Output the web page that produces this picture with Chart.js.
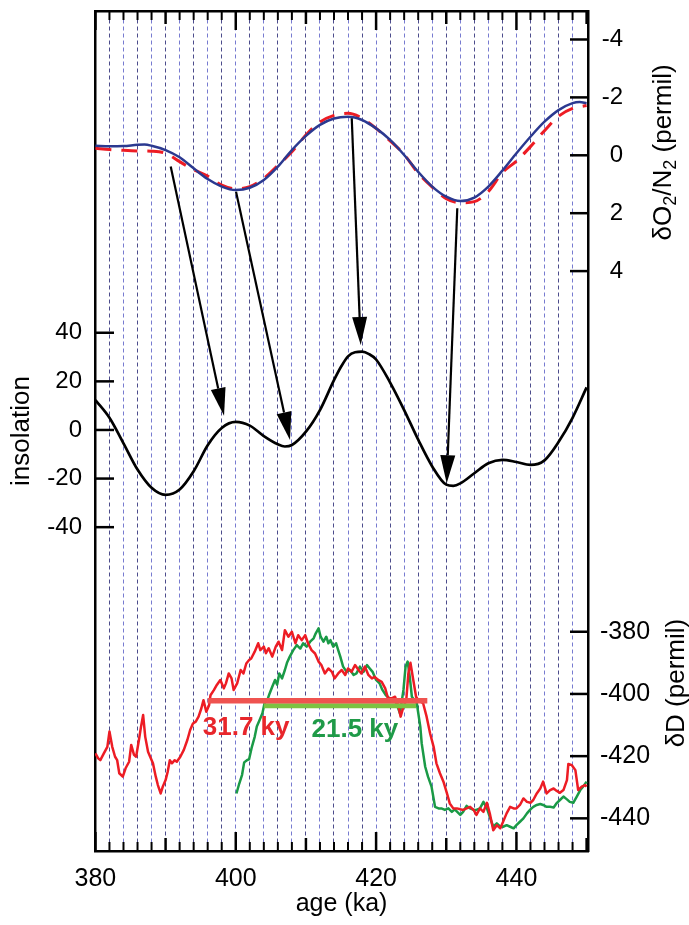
<!DOCTYPE html>
<html>
<head>
<meta charset="utf-8">
<script src="https://cdn.jsdelivr.net/npm/chart.js@4.4.1/dist/chart.umd.min.js"></script>
<style>
  html, body { margin: 0; padding: 0; background: #fff; }
  canvas { display: block; }
</style>
</head>
<body>
<canvas id="chart" width="689" height="925"></canvas>
<script>
// ---- axis ticks ----
const ageLabels = [380, 400, 420, 440];
const o2Ticks = [-4, -2, 0, 2, 4];
const insTicks = [-40, -20, 0, 20, 40];
const dTicks = [-440, -420, -400, -380];

// ---- dO2/N2 (permil), top panel ----
const o2BlueAge = [380, 382, 384, 386, 387, 388, 390, 392, 394, 396, 398, 400, 402, 404, 406, 408, 410, 412, 414, 416, 418, 420, 422, 424, 426, 428, 430, 432, 434, 436, 438, 440, 442, 444, 446, 448, 449, 450];
const o2Blue = [-0.33, -0.31, -0.32, -0.36, -0.37, -0.33, -0.18, 0.07, 0.45, 0.82, 1.08, 1.20, 1.12, 0.85, 0.39, -0.18, -0.67, -1.05, -1.27, -1.33, -1.22, -0.93, -0.53, -0.01, 0.57, 1.08, 1.43, 1.58, 1.46, 1.08, 0.53, -0.07, -0.64, -1.16, -1.56, -1.80, -1.84, -1.80];
const o2RedAge = [380, 382, 384, 386, 388, 390, 392, 394, 396, 398, 400, 402, 404, 406, 408, 410, 412, 414, 416, 418, 420, 422, 424, 426, 428, 430, 432, 434, 436, 438, 440, 442, 444, 446, 448, 450];
const o2Red = [-0.24, -0.20, -0.17, -0.15, -0.14, -0.07, 0.22, 0.50, 0.72, 1.03, 1.16, 1.08, 0.80, 0.35, -0.12, -0.70, -1.15, -1.38, -1.45, -1.28, -0.93, -0.50, -0.03, 0.62, 1.10, 1.50, 1.64, 1.60, 1.25, 0.60, 0.20, -0.30, -0.85, -1.35, -1.62, -1.72];

// ---- insolation, middle panel ----
const insAge = [380, 382, 384, 386, 388, 390, 392, 394, 396, 398, 400, 402, 404, 406, 407, 408, 410, 412, 414, 415, 416, 417, 418, 419, 420, 422, 424, 426, 428, 430, 431, 432, 434, 436, 438, 440, 442, 444, 446, 448, 450];
const ins = [12.3, 5.0, -5.5, -16.3, -23.8, -26.7, -24.5, -17.0, -6.3, 0.8, 3.3, 1.8, -2.5, -5.9, -6.8, -6.2, -0.7, 8.2, 20.5, 26.0, 30.3, 32.0, 32.2, 31.2, 29.0, 19.5, 8.2, -4.0, -15.0, -22.5, -23.0, -22.0, -17.8, -13.7, -12.3, -13.2, -14.4, -12.5, -5.0, 5.0, 17.5];

// ---- dD (permil), bottom panel ----
const dRedAge = [380.0, 380.4, 380.7, 381.2, 381.7, 382.0, 382.4, 382.8, 383.1, 383.4, 383.9, 384.3, 384.8, 385.1, 385.5, 385.8, 386.2, 386.5, 386.8, 387.1, 387.5, 387.8, 388.2, 388.6, 388.9, 389.3, 389.6, 390.0, 390.3, 390.6, 390.9, 391.3, 391.6, 392.1, 392.6, 393.1, 393.5, 393.9, 394.3, 394.7, 395.1, 395.4, 395.8, 396.2, 396.4, 396.9, 397.3, 397.8, 398.3, 398.6, 399.0, 399.4, 399.7, 400.2, 400.7, 401.1, 401.5, 401.9, 402.2, 402.7, 403.2, 403.5, 404.0, 404.3, 404.7, 405.2, 405.7, 406.1, 406.6, 407.0, 407.5, 408.0, 408.5, 408.9, 409.4, 409.9, 410.3, 410.8, 411.3, 411.8, 412.2, 412.7, 413.2, 413.7, 414.1, 414.6, 415.1, 415.6, 416.0, 416.5, 417.0, 417.5, 417.9, 418.4, 418.9, 419.4, 419.8, 420.3, 420.8, 421.3, 421.7, 422.2, 422.7, 423.2, 423.5, 423.9, 424.3, 424.6, 424.9, 425.3, 425.7, 426.0, 426.7, 427.2, 427.7, 428.2, 428.6, 429.1, 429.6, 430.1, 430.5, 431.0, 431.5, 432.0, 432.4, 432.9, 433.4, 433.9, 434.3, 434.8, 435.3, 435.8, 436.2, 436.7, 437.2, 437.7, 438.1, 438.6, 439.1, 439.6, 440.0, 440.5, 441.0, 441.5, 442.0, 442.4, 442.9, 443.4, 443.8, 444.3, 444.8, 445.3, 445.7, 446.2, 446.7, 447.2, 447.4, 447.9, 448.4, 448.8, 449.3, 449.8, 450.0];
const dRed = [-419.1, -420.7, -421.3, -419.1, -417.0, -412.1, -417.0, -420.2, -421.3, -425.5, -426.6, -423.9, -421.8, -416.4, -419.6, -420.2, -414.8, -410.5, -406.8, -413.8, -418.6, -420.2, -422.3, -426.6, -429.3, -432.0, -429.8, -427.7, -425.0, -421.3, -422.3, -421.3, -421.8, -420.2, -418.0, -414.8, -411.6, -409.5, -408.9, -407.3, -404.6, -402.0, -405.7, -403.6, -400.4, -398.7, -397.1, -395.5, -398.2, -396.6, -393.4, -395.0, -398.7, -396.6, -392.3, -393.4, -390.2, -389.1, -388.6, -386.4, -383.7, -385.9, -384.8, -386.9, -385.3, -388.0, -384.8, -383.2, -385.9, -379.5, -381.6, -380.0, -383.7, -381.1, -382.7, -381.1, -383.7, -385.9, -387.0, -389.6, -390.7, -393.4, -391.8, -392.9, -395.0, -393.4, -392.3, -393.9, -391.8, -392.9, -390.7, -392.3, -393.4, -391.2, -393.9, -395.0, -394.5, -395.5, -396.1, -398.2, -401.4, -401.4, -400.9, -404.1, -407.3, -404.1, -402.0, -393.4, -390.0, -395.5, -400.9, -402.0, -403.0, -407.3, -412.7, -417.0, -422.3, -425.5, -428.2, -432.0, -435.2, -436.8, -436.8, -437.1, -437.3, -436.8, -436.3, -437.3, -438.9, -436.8, -437.9, -435.0, -438.4, -443.8, -442.2, -443.2, -441.1, -438.4, -436.3, -436.8, -436.8, -435.7, -433.6, -434.7, -435.0, -434.1, -432.0, -430.4, -428.2, -432.0, -430.9, -430.4, -431.1, -431.8, -430.9, -427.7, -422.5, -422.9, -424.5, -430.9, -429.8, -429.3, -429.8];
const dGreenAge = [400.1, 400.5, 400.9, 401.2, 401.6, 401.9, 402.3, 402.7, 403.0, 403.4, 403.8, 404.1, 404.5, 404.8, 405.2, 405.6, 405.9, 406.2, 406.6, 407.0, 407.3, 407.7, 408.2, 408.7, 409.2, 409.6, 410.1, 410.6, 411.1, 411.4, 411.8, 412.1, 412.5, 412.9, 413.2, 413.5, 413.9, 414.3, 414.6, 414.9, 415.3, 415.8, 416.3, 416.8, 417.2, 417.7, 418.2, 418.7, 419.1, 419.5, 420.0, 420.5, 420.9, 421.4, 421.9, 422.5, 422.9, 423.4, 423.9, 424.2, 424.5, 424.8, 425.1, 425.8, 426.3, 426.5, 427.0, 427.4, 427.9, 428.4, 428.9, 429.3, 429.8, 430.3, 430.8, 431.2, 432.0, 432.4, 432.9, 433.4, 433.9, 434.3, 434.8, 435.3, 435.8, 436.2, 436.7, 437.2, 437.7, 438.1, 438.6, 439.1, 439.6, 440.0, 440.5, 441.0, 441.5, 442.0, 442.4, 442.9, 443.4, 443.8, 444.3, 444.8, 445.3, 445.7, 446.2, 446.7, 447.2, 447.6, 448.1, 448.6, 449.1, 449.5, 450.0];
const dGreen = [-432.0, -428.8, -426.0, -422.0, -421.3, -421.0, -417.0, -413.8, -410.5, -408.4, -406.2, -403.0, -402.0, -400.0, -397.7, -395.5, -397.0, -393.4, -395.0, -392.3, -390.0, -388.0, -385.9, -384.3, -385.4, -383.7, -384.8, -383.2, -382.1, -380.5, -378.9, -381.6, -383.2, -381.6, -383.7, -382.7, -384.8, -383.7, -385.9, -388.0, -391.2, -392.9, -392.3, -393.9, -393.4, -391.2, -392.9, -390.7, -391.8, -392.9, -395.5, -396.6, -398.7, -400.4, -401.4, -402.0, -403.0, -406.2, -398.7, -391.2, -389.6, -394.5, -400.9, -403.0, -410.5, -415.9, -423.4, -426.6, -429.8, -436.3, -436.8, -436.8, -437.3, -436.8, -437.9, -437.1, -438.9, -437.9, -436.0, -436.8, -437.3, -437.3, -436.8, -434.7, -436.8, -439.5, -442.7, -441.6, -442.7, -442.7, -442.2, -442.7, -443.2, -442.2, -441.1, -440.0, -438.4, -437.1, -436.3, -435.7, -435.4, -435.7, -436.3, -436.3, -436.5, -435.2, -434.1, -433.0, -433.9, -434.7, -435.0, -433.0, -430.9, -429.8, -428.2];

// duration bars on the dD axis
const redBarAge = [396.0, 427.3];
const redBarD = [-402.2, -402.2];
const greenBarAge = [404.0, 425.7];
const greenBarD = [-403.8, -403.8];
const barText = ['31.7 ky', '21.5 ky'];
const barTextAge = [395.3, 410.8];
const barTextD = [-411.0, -411.6];

// arrows: from the dO2/N2 curve to the insolation curve
const arrowFromAge = [390.73, 400.04, 416.53, 431.57];
const arrowFromO2 = [0.39, 1.26, -1.28, 1.83];
const arrowToAge = [398.33, 407.73, 417.81, 430.06];
const arrowToIns = [5.8, -4.1, 35.0, -21.9];

const FONT = '"Liberation Sans", Arial, sans-serif';
Chart.defaults.font.family = FONT;
Chart.defaults.color = '#000';

const pts = (a, v) => a.map((x, i) => ({ x: x, y: v[i] }));
const setTicks = list => scale => { scale.ticks = list.map(v => ({ value: v })); };
const fixBox = (w, h) => scale => {
  if (w !== null) scale.width = w;
  if (h !== null) scale.height = h;
  scale.paddingTop = 0; scale.paddingBottom = 0;
  scale.paddingLeft = 0; scale.paddingRight = 0;
};

const gridAges = [];
for (let t = 382; t < 450; t += 2) gridAges.push(t);

function line(ctx, x1, y1, x2, y2) {
  ctx.beginPath(); ctx.moveTo(x1, y1); ctx.lineTo(x2, y2); ctx.stroke();
}

function arrow(ctx, sx, sy, ex, ey) {
  const ang = Math.atan2(ey - sy, ex - sx);
  const head = 28, half = 7.5;
  const bx = ex - head * Math.cos(ang), by = ey - head * Math.sin(ang);
  ctx.lineWidth = 2.2;
  line(ctx, sx, sy, bx, by);
  ctx.beginPath();
  ctx.moveTo(ex, ey);
  ctx.lineTo(bx + half * Math.sin(ang), by - half * Math.cos(ang));
  ctx.lineTo(bx - half * Math.sin(ang), by + half * Math.cos(ang));
  ctx.closePath();
  ctx.fill();
}

function verticalTitle(ctx, parts, cx, cy) {
  ctx.save();
  ctx.translate(cx, cy);
  ctx.rotate(-Math.PI / 2);
  ctx.textBaseline = 'middle';
  ctx.textAlign = 'left';
  let total = 0;
  const widths = parts.map(p => {
    ctx.font = (p.sub ? '18px ' : '26px ') + FONT;
    const w = ctx.measureText(p.text).width;
    total += w;
    return w;
  });
  let pos = -total / 2;
  parts.forEach((p, i) => {
    ctx.font = (p.sub ? '18px ' : '26px ') + FONT;
    ctx.fillText(p.text, pos, p.sub ? 7 : 0);
    pos += widths[i];
  });
  ctx.restore();
}

const decorations = {
  id: 'decorations',
  afterDraw(chart) {
    const { ctx, chartArea: a, scales } = chart;
    const x = scales.x, o2 = scales.yO2, ins = scales.yIns, dd = scales.yD;
    ctx.save();
    ctx.strokeStyle = '#000';
    ctx.fillStyle = '#000';
    ctx.lineCap = 'butt';
    // inward ticks on the age axes
    for (let t = 380; t <= 450; t += 2) {
      const px = x.getPixelForValue(t);
      const len = t % 20 === 0 ? 19 : (t % 10 === 0 ? 13 : 9);
      ctx.lineWidth = t % 10 === 0 ? 2.5 : 2;
      line(ctx, px, a.bottom, px, a.bottom - len);
      line(ctx, px, a.top, px, a.top + len);
    }
    ctx.lineWidth = 2.5;
    insTicks.forEach(v => { const py = ins.getPixelForValue(v); line(ctx, a.left, py, a.left + 19, py); });
    o2Ticks.forEach(v => { const py = o2.getPixelForValue(v); line(ctx, a.right, py, a.right - 18, py); });
    dTicks.forEach(v => { const py = dd.getPixelForValue(v); line(ctx, a.right, py, a.right - 18, py); });

    // dO2/N2 tick labels (right-aligned, sharing the right side with dD)
    ctx.font = '24px ' + FONT;
    ctx.textAlign = 'right';
    ctx.textBaseline = 'middle';
    o2Ticks.forEach(v => ctx.fillText(String(v), a.right + 35, o2.getPixelForValue(v)));

    // arrows
    arrowFromAge.forEach((t, i) => {
      arrow(ctx, x.getPixelForValue(t), o2.getPixelForValue(arrowFromO2[i]),
        x.getPixelForValue(arrowToAge[i]), ins.getPixelForValue(arrowToIns[i]));
    });

    // duration labels
    ctx.font = 'bold 26px ' + FONT;
    ctx.textBaseline = 'middle';
    ctx.textAlign = 'left';
    const cols = ['#e8262b', '#1f9a48'];
    barText.forEach((s, i) => {
      ctx.fillStyle = cols[i];
      ctx.fillText(s, x.getPixelForValue(barTextAge[i]), dd.getPixelForValue(barTextD[i]));
    });

    // right-hand titles
    ctx.fillStyle = '#000';
    verticalTitle(ctx, [
      { text: '\u03B4O' }, { text: '2', sub: true }, { text: '/N' }, { text: '2', sub: true }, { text: ' (permil)' }
    ], a.right + 76, o2.getPixelForValue(-0.1));
    verticalTitle(ctx, [{ text: '\u03B4D (permil)' }], a.right + 89, dd.getPixelForValue(-396.5));
    ctx.restore();
  }
};

const tickFont = { size: 25 };
const ageMin = 379.94, ageMax = 450.2;

new Chart(document.getElementById('chart'), {
  type: 'line',
  data: {
    datasets: [
      { data: pts(redBarAge, redBarD), yAxisID: 'yD', borderColor: '#ef5350', borderWidth: 5.5, order: 0 },
      { data: pts(greenBarAge, greenBarD), yAxisID: 'yD', borderColor: '#7cc242', borderWidth: 5, order: 1 },
      { data: pts(dRedAge, dRed), yAxisID: 'yD', borderColor: '#ed1c24', borderWidth: 2.5, order: 2 },
      { data: pts(dGreenAge, dGreen), yAxisID: 'yD', borderColor: '#1a9a46', borderWidth: 2.5, order: 3 },
      { data: pts(o2BlueAge, o2Blue), yAxisID: 'yO2', borderColor: '#2b3990', borderWidth: 2.5, cubicInterpolationMode: 'monotone', order: 4 },
      { data: pts(o2RedAge, o2Red), yAxisID: 'yO2', borderColor: '#ed1c24', borderWidth: 3, borderDash: [16, 10], cubicInterpolationMode: 'monotone', order: 5 },
      { data: pts(insAge, ins), yAxisID: 'yIns', borderColor: '#000', borderWidth: 2.7, cubicInterpolationMode: 'monotone', order: 6 }
    ]
  },
  options: {
    responsive: false,
    animation: false,
    devicePixelRatio: 1,
    layout: { padding: 0 },
    elements: { point: { radius: 0 }, line: { fill: false, borderJoinStyle: 'round' } },
    plugins: { legend: { display: false }, tooltip: { enabled: false } },
    scales: {
      x: {
        type: 'linear', position: 'bottom', min: ageMin, max: ageMax,
        afterBuildTicks: setTicks(ageLabels), afterFit: fixBox(null, 74),
        grid: { display: false, drawTicks: false },
        border: { color: '#000', width: 2.5 },
        ticks: { font: tickFont, padding: 13, autoSkip: false, maxRotation: 0, callback: v => String(v) },
        title: { display: true, text: 'age (ka)', font: { size: 25 }, padding: { top: 0, bottom: 6 } }
      },
      xTop: {
        type: 'linear', position: 'top', min: ageMin, max: ageMax,
        afterBuildTicks: setTicks(gridAges), afterFit: fixBox(null, 11),
        grid: { drawTicks: false, color: ctx => ctx.index % 2 ? 'rgba(95,100,200,0.85)' : 'rgba(45,45,120,0.85)', lineWidth: 1 },
        border: { color: '#000', width: 2.5, dash: [4, 3] },
        ticks: { display: false }
      },
      yIns: {
        type: 'linear', position: 'left', min: -173.25, max: 172.4,
        afterBuildTicks: setTicks(insTicks), afterFit: fixBox(95, null),
        grid: { display: false, drawTicks: false },
        border: { color: '#000', width: 2.5 },
        ticks: { font: { size: 24 }, padding: 13, autoSkip: false, callback: v => String(v) },
        title: { display: true, text: 'insolation', font: { size: 26 }, padding: { top: 6, bottom: 0 } }
      },
      yD: {
        type: 'linear', position: 'right', min: -450.5, max: -180.4,
        afterBuildTicks: setTicks(dTicks), afterFit: fixBox(101, null),
        grid: { display: false, drawTicks: false },
        border: { color: '#000', width: 2.5 },
        ticks: { font: tickFont, padding: 12, crossAlign: 'near', autoSkip: false, callback: v => String(v) }
      },
      yO2: {
        type: 'linear', position: 'right', reverse: true, min: -4.984, max: 24.03,
        display: false
      }
    }
  },
  plugins: [decorations]
});
</script>
</body>
</html>
